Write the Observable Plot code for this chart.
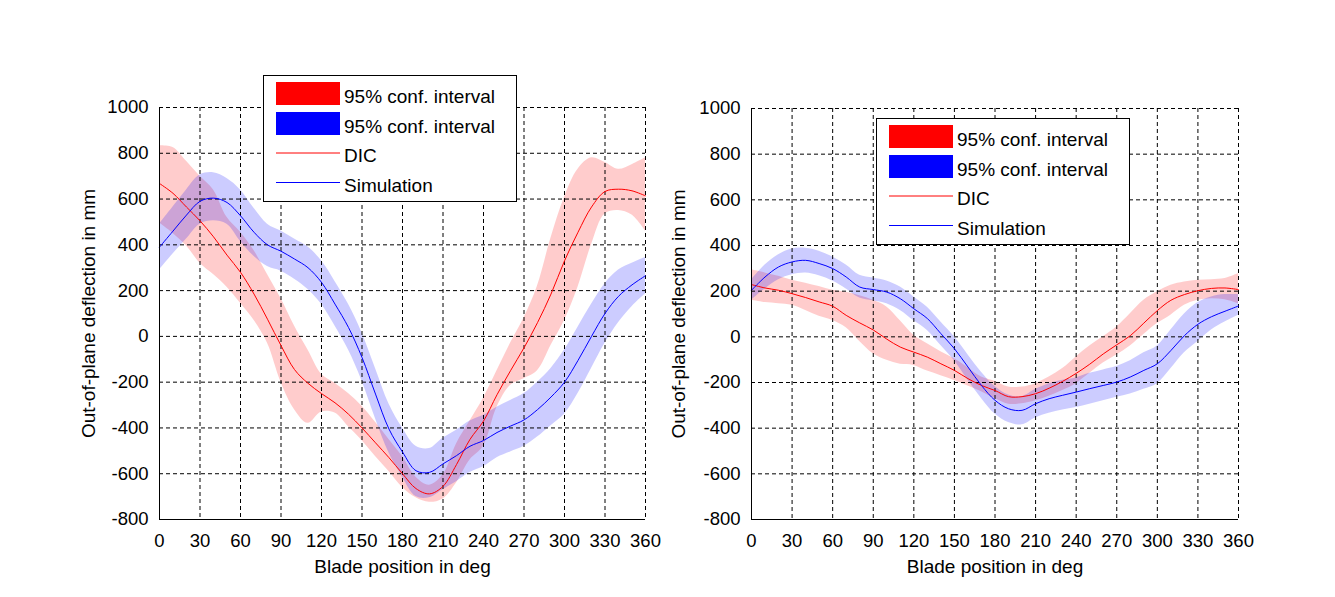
<!DOCTYPE html>
<html>
<head>
<meta charset="utf-8">
<script src="https://cdn.jsdelivr.net/npm/d3@7"></script>
<script src="https://cdn.jsdelivr.net/npm/@observablehq/plot@0.6"></script>
<style>
  html, body { margin: 0; padding: 0; background: #fff; }
  #chart { position: relative; width: 1335px; height: 597px; font-family: "Liberation Sans", Arial, sans-serif; }
  #chart > svg { position: absolute; top: 0; }
</style>
</head>
<body>
<div id="chart"></div>
<script>
// Blade position (deg) at which every series is sampled
const angles = [0,10,20,30,40,50,60,70,80,90,100,110,120,130,140,150,160,170,180,
                190,200,210,220,230,240,250,260,270,280,290,300,310,320,330,340,350,360];

// Left panel: DIC measurement (mean and 95% band)
const leftDicMean  = [668,625,565,505,435,355,280,185,75,-40,-145,-205,-250,-290,-340,-400,-465,-530,-600,
                      -665,-688,-655,-560,-450,-370,-255,-150,-50,60,185,330,455,565,633,643,636,614];
const leftDicUpper = [833,825,765,700,640,520,455,375,270,165,45,-60,-165,-205,-250,-305,-375,-450,-525,
                      -615,-650,-605,-470,-370,-270,-150,-30,80,220,430,607,730,780,760,730,750,780];
const leftDicLower = [495,450,395,320,270,215,145,70,-30,-200,-320,-380,-330,-335,-395,-455,-525,-590,-660,
                      -705,-725,-710,-640,-540,-480,-310,-215,-185,-150,-40,69,215,400,535,550,530,460];

// Left panel: simulation (mean and 95% band)
const leftSimMean  = [390,460,530,590,604,585,527,455,400,372,338,300,236,141,39,-92,-252,-405,-505,
                      -587,-594,-557,-521,-480,-455,-420,-392,-365,-320,-265,-200,-105,0,100,175,225,265];
const leftSimUpper = [490,565,640,705,715,690,640,560,490,460,425,390,330,240,140,15,-140,-295,-400,
                      -480,-490,-445,-410,-370,-345,-310,-280,-250,-200,-140,-60,40,140,230,290,320,345];
const leftSimLower = [290,360,425,490,505,490,415,350,305,285,250,205,140,45,-60,-195,-360,-510,-615,
                      -700,-705,-670,-635,-595,-570,-530,-505,-480,-440,-390,-340,-250,-140,-30,60,130,185];

// Right panel: DIC measurement (mean and 95% band)
const rightDicMean  = [229,214,204,189,172,153,134,94,61,30,-10,-45,-67,-89,-118,-147,-183,-213,-235,
                       -262,-262,-249,-225,-195,-160,-120,-75,-35,5,60,115,160,185,202,212,214,207];
const rightDicUpper = [294,280,265,248,235,220,204,195,180,160,131,70,7,-30,-65,-96,-135,-176,-195,
                       -220,-220,-205,-176,-139,-88,-40,0,43,101,160,197,226,240,248,250,255,277];
const rightDicLower = [160,150,145,138,115,90,72,40,-20,-74,-103,-120,-125,-150,-170,-191,-215,-240,-270,
                       -295,-293,-280,-260,-235,-205,-160,-115,-80,-40,10,58,95,138,160,167,162,145];

// Right panel: simulation (mean and 95% band)
const rightSimMean  = [204,262,306,328,335,321,299,262,218,207,196,167,123,80,14,-52,-132,-213,-278,
                       -315,-322,-293,-271,-256,-242,-227,-213,-198,-176,-147,-118,-60,5,55,88,112,135];
const rightSimUpper = [250,315,360,385,388,375,350,315,270,258,245,218,175,130,65,0,-78,-155,-218,
                       -255,-262,-230,-205,-190,-180,-160,-145,-130,-105,-70,-40,30,100,150,175,185,185];
const rightSimLower = [160,210,250,272,280,268,245,210,170,158,145,115,70,28,-38,-105,-190,-270,-338,
                       -375,-385,-355,-335,-320,-310,-295,-280,-265,-250,-230,-205,-140,-70,-20,30,65,95];

// Axes
const xTicks = [0,30,60,90,120,150,180,210,240,270,300,330,360];
const yTicks = [-800,-600,-400,-200,0,200,400,600,800,1000];
const xLabel = "Blade position in deg";
const yLabel = "Out-of-plane deflection in mm";

// Legend entries
const legendLabels = ["95% conf. interval", "95% conf. interval", "DIC", "Simulation"];
const legendColors = ["#ff0000", "#0000ff", "#ff0000", "#0000ff"];
const legendKinds  = ["band", "band", "line", "line"];

const FONT = '"Liberation Sans", Arial, sans-serif';

function rowsOf(dm, du, dl, sm, su, sl) {
  return angles.map((a, i) => ({
    angle: a, dicMean: dm[i], dicHi: du[i], dicLo: dl[i],
    simMean: sm[i], simHi: su[i], simLo: sl[i]
  }));
}

function panel(rows, m) {
  const fmt = d => String(d);
  return Plot.plot({
    width: m.width, height: 597,
    marginLeft: m.left, marginRight: m.right, marginTop: m.top, marginBottom: m.bottom,
    style: {fontFamily: FONT, fontSize: "18.5px", color: "#000", background: "transparent", overflow: "visible"},
    x: {domain: [xTicks[0], xTicks[xTicks.length - 1]]},
    y: {domain: [yTicks[0], yTicks[yTicks.length - 1]]},
    marks: [
      Plot.areaY(rows, {x: "angle", y1: "dicLo", y2: "dicHi", fill: "#ff0000", fillOpacity: 0.2, curve: "catmull-rom"}),
      Plot.areaY(rows, {x: "angle", y1: "simLo", y2: "simHi", fill: "#0000ff", fillOpacity: 0.2, curve: "catmull-rom"}),
      Plot.gridX(xTicks, {stroke: "#000", strokeOpacity: 1, strokeWidth: 1, strokeDasharray: "4,3"}),
      Plot.gridY(yTicks, {stroke: "#000", strokeOpacity: 1, strokeWidth: 1, strokeDasharray: "4,3"}),
      Plot.lineY(rows, {x: "angle", y: "dicMean", stroke: "#ff0000", strokeWidth: 1, curve: "catmull-rom"}),
      Plot.lineY(rows, {x: "angle", y: "simMean", stroke: "#0000ff", strokeWidth: 1, curve: "catmull-rom"}),
      Plot.ruleX([xTicks[0]], {stroke: "#000", strokeWidth: 1}),
      Plot.ruleY([yTicks[0]], {stroke: "#000", strokeWidth: 1}),
      Plot.axisX(xTicks, {tickSize: 0, tickPadding: 14, tickFormat: fmt, label: null}),
      Plot.axisY(yTicks, {tickSize: 0, tickPadding: 11, tickFormat: fmt, label: null}),
      Plot.text([xLabel], {text: d => d, frameAnchor: "bottom", textAnchor: "middle", lineAnchor: "top", dy: 40, fontSize: 19, fill: "#000"}),
      Plot.text([yLabel], {text: d => d, frameAnchor: "left", textAnchor: "middle", lineAnchor: "top", rotate: -90, dx: -m.yLabelOffset, fontSize: 19, fill: "#000"})
    ]
  });
}

function legend(container, left, top) {
  const w = 253, h = 126;
  const svg = d3.select(container).append("svg")
    .attr("width", w + 2).attr("height", h + 2)
    .style("left", left + "px").style("top", top + "px")
    .style("font-family", FONT).style("font-size", "19px");
  svg.append("rect").attr("x", 0.5).attr("y", 0.5).attr("width", w).attr("height", h)
    .attr("fill", "#fff").attr("stroke", "#000").attr("stroke-width", 1);
  const rowY = [7, 37, 78, 107.5];
  const baseY = [28, 58, 87, 117];
  legendLabels.forEach((lab, i) => {
    if (legendKinds[i] === "band") {
      svg.append("rect").attr("x", 13).attr("y", rowY[i]).attr("width", 64).attr("height", 23)
        .attr("fill", legendColors[i]);
    } else {
      svg.append("line").attr("x1", 13).attr("x2", 77).attr("y1", rowY[i]).attr("y2", rowY[i])
        .attr("stroke", legendColors[i]).attr("stroke-width", 1);
    }
    svg.append("text").attr("x", 81).attr("y", baseY[i]).attr("fill", "#000").text(lab);
  });
}

const chart = document.getElementById("chart");

const leftPlot = panel(
  rowsOf(leftDicMean, leftDicUpper, leftDicLower, leftSimMean, leftSimUpper, leftSimLower),
  {width: 667, left: 159, right: 22, top: 107, bottom: 78, yLabelOffset: 78}
);
leftPlot.style.left = "0px";
chart.appendChild(leftPlot);

const rightPlot = panel(
  rowsOf(rightDicMean, rightDicUpper, rightDicLower, rightSimMean, rightSimUpper, rightSimLower),
  {width: 668, left: 84, right: 97, top: 108, bottom: 78, yLabelOffset: 80}
);
rightPlot.style.left = "667px";
chart.appendChild(rightPlot);

legend(chart, 263, 75);
legend(chart, 876, 118);
</script>
</body>
</html>
